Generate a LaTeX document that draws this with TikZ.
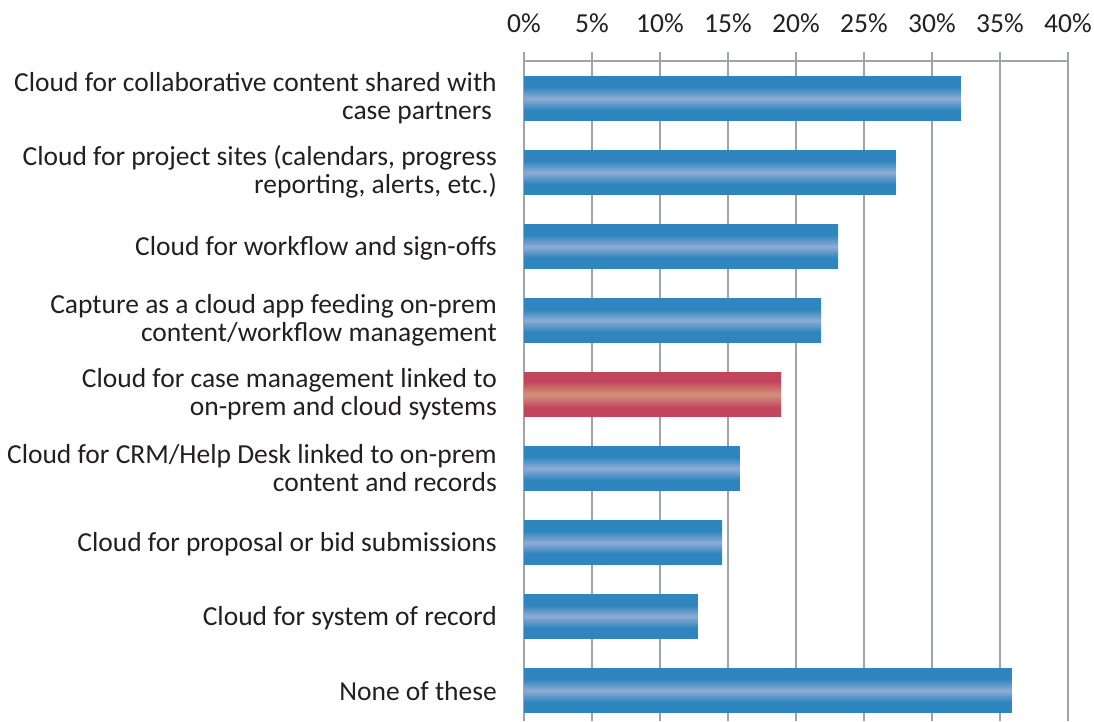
\documentclass[tikz,border=0pt]{standalone}
\usepackage{fontspec}
\setmainfont{Carlito}
\definecolor{barblue}{HTML}{2F85BE}
\definecolor{barlight}{HTML}{8FACD4}
\definecolor{barred}{HTML}{C0455D}
\definecolor{redlight}{HTML}{D4937A}
\definecolor{gridgrey}{HTML}{A0A3A8}
\definecolor{txt}{HTML}{231F20}
\pgfdeclareverticalshading{bluebar}{100bp}{color(0bp)=(barblue); color(37bp)=(barblue); color(50bp)=(barlight); color(63bp)=(barblue); color(100bp)=(barblue)}
\pgfdeclareverticalshading{redbar}{100bp}{color(0bp)=(barred); color(35bp)=(barred); color(50bp)=(redlight); color(65bp)=(barred); color(100bp)=(barred)}
\tikzset{
  lbl/.style={anchor=east, align=right, inner sep=0pt, text=txt, font=\fontsize{27.5}{28}\selectfont},
  ticklbl/.style={anchor=center, inner sep=0pt, text=txt, font=\fontsize{27.5}{28}\selectfont},
  gridline/.style={draw=gridgrey, line width=2.5pt},
}
\begin{document}
\begin{tikzpicture}[x=1pt,y=-1pt]
\useasboundingbox (0,0) rectangle (1094,721);
% gridlines and tick labels
\foreach \i in {0,...,8}{
  \pgfmathsetmacro{\xx}{524+68*\i}
  \pgfmathtruncatemacro{\pc}{5*\i}
  \draw[gridline] (\xx,52) -- (\xx,721);
  \node[ticklbl] (t\i) at (\xx,23) {\pc\%};
}
\draw[gridline] (524,61) -- (1068,61);
% bars
\foreach \v/\s [count=\k from 0] in {32.13/bluebar,27.35/bluebar,23.09/bluebar,21.84/bluebar,18.90/redbar,15.88/bluebar,14.56/bluebar,12.79/bluebar,35.88/bluebar}{
  \pgfmathsetmacro{\yt}{76.5+74*\k}
  \pgfmathsetmacro{\yb}{\yt+44}
  \pgfmathsetmacro{\xe}{524+13.6*\v}
  \path[shading=\s] (524,\yt) rectangle (\xe,\yb);
}
% labels
\node[lbl] (c1) at (497,98) {Cloud for collaborative content shared with\\case partners\hspace*{5pt}};
\node[lbl] (c2) at (497,172) {Cloud for project sites (calendars, progress\\reporting, alerts, etc.)};
\node[lbl] (c3) at (497,248) {Cloud for workflow and sign-offs};
\node[lbl] (c4) at (497,320) {Capture as a cloud app feeding on-prem\\content/workflow management};
\node[lbl] (c5) at (497,394) {Cloud for case management linked to\\on-prem and cloud systems};
\node[lbl] (c6) at (497,468) {Cloud for CRM/Help Desk linked to on-prem\\content and records};
\node[lbl] (c7) at (497,544) {Cloud for proposal or bid submissions};
\node[lbl] (c8) at (497,618) {Cloud for system of record};
\node[lbl] (c9) at (497,691) {None of these};
\end{tikzpicture}
\end{document}
